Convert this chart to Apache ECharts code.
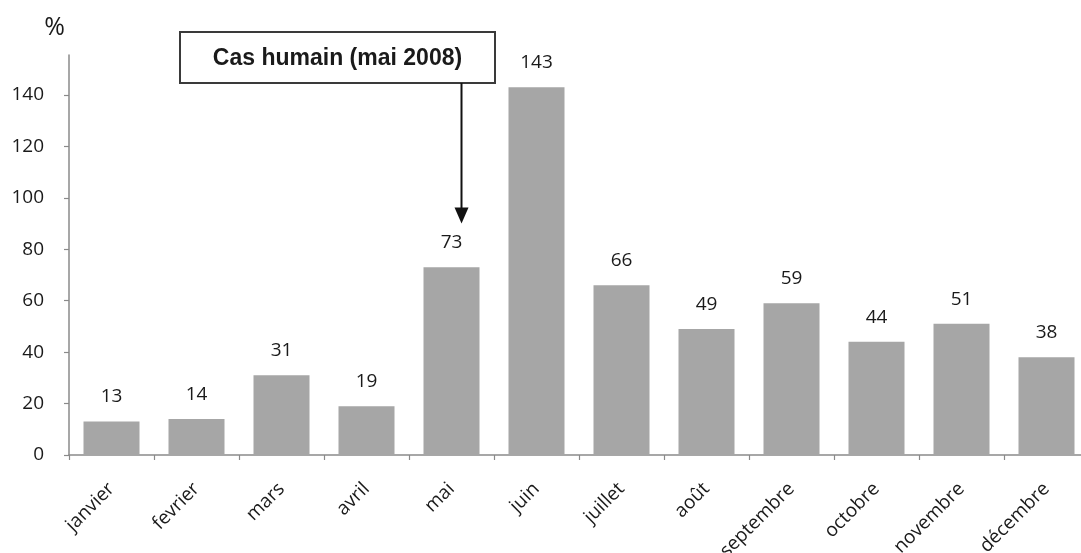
<!DOCTYPE html>
<html>
<head>
<meta charset="utf-8">
<script src="https://cdn.jsdelivr.net/npm/echarts@6/dist/echarts.min.js"></script>
<style>
  html, body { margin: 0; padding: 0; background: #fff; }
  #chart { width: 1081px; height: 553px; }
</style>
</head>
<body>
<div id="chart"></div>
<script>
// Monthly share (%) by month
const months = ['janvier', 'fevrier', 'mars', 'avril', 'mai', 'juin',
                'juillet', 'août', 'septembre', 'octobre', 'novembre', 'décembre'];
const values = [13, 14, 31, 19, 73, 143, 66, 49, 59, 44, 51, 38];
const yTicks = [0, 20, 40, 60, 80, 100, 120, 140];
const yUnit = '%';
const noteText = 'Cas humain (mai 2008)';
const noteMonth = 'mai';

const textColor = '#1a1a1a';
const axisColor = '#8a8a8a';
const barColor = '#a6a6a6';
const font = '"Open Sans", "DejaVu Sans", sans-serif';

const chart = echarts.init(document.getElementById('chart'), null, { renderer: 'canvas' });

chart.setOption({
  animation: false,
  backgroundColor: '#ffffff',
  grid: {
    left: 69, top: 55, width: 1020, height: 400,
    containLabel: false,
    outerBoundsMode: 'none'
  },
  xAxis: {
    type: 'category',
    data: months,
    boundaryGap: true,
    axisLine: { lineStyle: { color: axisColor, width: 1.5 } },
    axisTick: { show: true, length: 5, lineStyle: { color: axisColor, width: 1.2 } },
    axisLabel: {
      rotate: 45,
      margin: 31,
      interval: 0,
      color: textColor,
      fontFamily: font,
      fontSize: 19
    }
  },
  yAxis: {
    type: 'value',
    min: 0,
    max: 155.5,
    interval: 20,
    name: yUnit,
    nameLocation: 'end',
    nameGap: 15,
    nameTextStyle: {
      color: textColor,
      fontFamily: font,
      fontSize: 25,
      align: 'right',
      padding: [0, 4, 0, 0]
    },
    splitLine: { show: false },
    axisLine: { show: true, lineStyle: { color: axisColor, width: 1.5 } },
    axisTick: { show: true, length: 5, customValues: yTicks, lineStyle: { color: axisColor, width: 1.2 } },
    axisLabel: {
      customValues: yTicks,
      margin: 25,
      color: textColor,
      fontFamily: font,
      fontSize: 19
    }
  },
  series: [{
    type: 'bar',
    data: values,
    barWidth: 56,
    itemStyle: { color: barColor },
    label: {
      show: true,
      position: 'top',
      distance: 15,
      color: textColor,
      fontFamily: font,
      fontSize: 19
    }
  }]
});

// Callout box with an arrow pointing down at the month
function drawAnnotations() {
  const arrowX = chart.convertToPixel({ xAxisIndex: 0 }, noteMonth) + 10;
  const boxTop = 32, boxBottom = 83;
  const tipY = chart.convertToPixel({ yAxisIndex: 0 }, 90);
  chart.setOption({
    graphic: [
      {
        type: 'rect',
        shape: { x: 180, y: boxTop, width: 315, height: boxBottom - boxTop },
        style: { fill: '#ffffff', stroke: '#3a3a3a', lineWidth: 2 }
      },
      {
        type: 'text',
        x: 337.5, y: (boxTop + boxBottom) / 2 + 1,
        style: {
          text: noteText,
          fontSize: 23,
          fontWeight: 'bold',
          fontFamily: '"Liberation Sans", Arial, sans-serif',
          fill: '#1a1a1a',
          align: 'center',
          verticalAlign: 'middle'
        }
      },
      {
        type: 'line',
        shape: { x1: arrowX, y1: boxBottom, x2: arrowX, y2: tipY - 14 },
        style: { stroke: '#111', lineWidth: 2 }
      },
      {
        type: 'polygon',
        shape: { points: [[arrowX - 7, tipY - 16], [arrowX + 7, tipY - 16], [arrowX, tipY]] },
        style: { fill: '#111' }
      }
    ]
  });
}
drawAnnotations();
</script>
</body>
</html>
